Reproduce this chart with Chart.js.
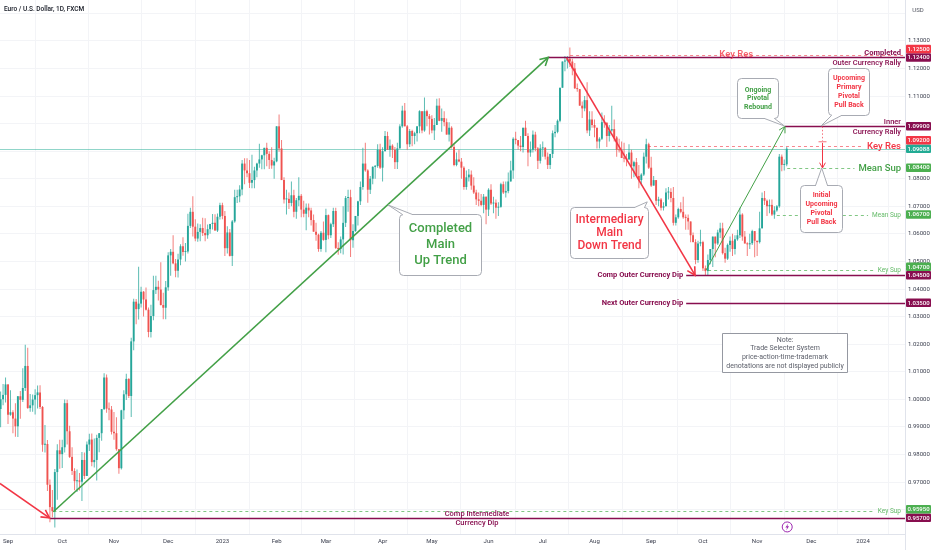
<!DOCTYPE html>
<html>
<head>
<meta charset="utf-8">
<title>EUR/USD daily</title>
<script src="https://cdn.jsdelivr.net/npm/chart.js@4.4.1/dist/chart.umd.min.js"></script>
<style>
  html, body { margin: 0; padding: 0; background: #fff; }
  #wrap { width: 932px; height: 550px; }
</style>
</head>
<body>
<div id="wrap"><canvas id="chart" width="932" height="550"></canvas></div>
<script>
// EUR/USD 1D candles, 29 Aug 2022 .. 17 Nov 2023 (one entry per weekday)
const firstOpen = 0.9965;
const closes = [
  1.0000, 1.0016, 1.0054,
  0.9944, 0.9953, 0.9930, 0.9902, 1.0011, 0.9998, 1.0041, 1.0121, 0.9968, 0.9978, 0.9999, 1.0015, 1.0025, 0.9972, 0.9835, 0.9838, 0.9690, 0.9609, 0.9594, 0.9736, 0.9815, 0.9801,
  0.9826, 0.9986, 0.9884, 0.9791, 0.9740, 0.9703, 0.9706, 0.9701, 0.9780, 0.9722, 0.9836, 0.9854, 0.9772, 0.9780, 0.9860, 0.9877, 0.9964, 1.0079, 0.9966, 0.9963, 0.9882,
  0.9877, 0.9819, 0.9750, 0.9960, 1.0018, 1.0074, 1.0012, 1.0210, 1.0354, 1.0327, 1.0347, 1.0390, 1.0362, 1.0325, 1.0244, 1.0302, 1.0396, 1.0408, 1.0398, 1.0342, 1.0332, 1.0406,
  1.0522, 1.0535, 1.0493, 1.0466, 1.0507, 1.0555, 1.0534, 1.0536, 1.0629, 1.0680, 1.0626, 1.0583, 1.0607, 1.0621, 1.0603, 1.0595, 1.0617, 1.0636, 1.0640, 1.0612, 1.0662, 1.0704,
  1.0665, 1.0548, 1.0605, 1.0520, 1.0645, 1.0733, 1.0736, 1.0761, 1.0855, 1.0830, 1.0820, 1.0785, 1.0795, 1.0830, 1.0855, 1.0870, 1.0885, 1.0912, 1.0890, 1.0868, 1.0848, 1.0863,
  1.0990, 1.0910, 1.0795, 1.0725, 1.0727, 1.0712, 1.0740, 1.0680, 1.0722, 1.0738, 1.0688, 1.0673, 1.0695, 1.0685, 1.0650, 1.0608, 1.0597, 1.0545, 1.0604, 1.0578,
  1.0668, 1.0595, 1.0635, 1.0683, 1.0549, 1.0545, 1.0580, 1.0640, 1.0730, 1.0733, 1.0577, 1.0610, 1.0665, 1.0718, 1.0770, 1.0855, 1.0830, 1.0760, 1.0800, 1.0843, 1.0846, 1.0905, 1.0840,
  1.0900, 1.0955, 1.0905, 1.0920, 1.0905, 1.0860, 1.0910, 1.0990, 1.1047, 1.0990, 1.0925, 1.0973, 1.0955, 1.0965, 1.0990, 1.1045, 1.0975, 1.1045, 1.1027, 1.1017,
  1.0975, 1.0995, 1.1065, 1.1010, 1.1020, 1.1005, 1.0960, 1.0985, 1.0915, 1.0850, 1.0870, 1.0862, 1.0840, 1.0770, 1.0805, 1.0815, 1.0775, 1.0750, 1.0725, 1.0720, 1.0705, 1.0735, 1.0688,
  1.0760, 1.0710, 1.0713, 1.0695, 1.0698, 1.0780, 1.0750, 1.0755, 1.0790, 1.0830, 1.0945, 1.0940, 1.0920, 1.0915, 1.0985, 1.0955, 1.0895, 1.0905, 1.0960, 1.0910, 1.0865, 1.0910,
  1.0912, 1.0880, 1.0850, 1.0890, 1.0965, 1.0970, 1.1010, 1.1130, 1.1225, 1.1228, 1.1235, 1.1225, 1.1200, 1.1128, 1.1125, 1.1065, 1.1055, 1.1085, 1.0975, 1.1015, 1.0995,
  1.0985, 1.0935, 1.0945, 1.1005, 1.1003, 1.0955, 1.0975, 1.0980, 1.0950, 1.0905, 1.0903, 1.0875, 1.0873, 1.0870, 1.0895, 1.0845, 1.0860, 1.0810, 1.0795, 1.0815, 1.0880, 1.0925, 1.0840,
  1.0775, 1.0795, 1.0720, 1.0725, 1.0695, 1.0700, 1.0750, 1.0752, 1.0730, 1.0640, 1.0660, 1.0690, 1.0680, 1.0660, 1.0658, 1.0645, 1.0595, 1.0570, 1.0505, 1.0565, 1.0570,
  1.0475, 1.0465, 1.0505, 1.0545, 1.0590, 1.0565, 1.0605, 1.0620, 1.0530, 1.0510, 1.0560, 1.0575, 1.0545, 1.0580, 1.0595, 1.0670, 1.0590, 1.0565, 1.0562, 1.0566, 1.0610, 1.0575,
  1.0570, 1.0620, 1.0730, 1.0720, 1.0700, 1.0705, 1.0670, 1.0685, 1.0700, 1.0880, 1.0850, 1.0852, 1.0909
];
const highs = [
  1.0028, 1.0055, 1.0079,
  1.0055, 1.0033, 0.9960, 0.9986, 1.0012, 1.0030, 1.0113, 1.0198, 1.0187, 1.0019, 1.0017, 1.0036, 1.0050, 1.0051, 0.9976, 0.9907, 0.9852, 0.9709, 0.9671, 0.9747, 0.9837, 0.9853,
  0.9853, 0.9999, 0.9998, 0.9904, 0.9826, 0.9750, 0.9745, 0.9733, 0.9809, 0.9807, 0.9847, 0.9875, 0.9876, 0.9858, 0.9871, 0.9877, 0.9965, 1.0094, 1.0090, 0.9988, 0.9976,
  0.9954, 0.9935, 0.9815, 0.9962, 1.0033, 1.0093, 1.0076, 1.0223, 1.0365, 1.0364, 1.0481, 1.0408, 1.0393, 1.0405, 1.0333, 1.0343, 1.0448, 1.0448, 1.0430, 1.0497, 1.0386, 1.0429,
  1.0533, 1.0545, 1.0595, 1.0509, 1.0528, 1.0562, 1.0588, 1.0567, 1.0673, 1.0695, 1.0736, 1.0653, 1.0638, 1.0635, 1.0658, 1.0657, 1.0634, 1.0636, 1.0672, 1.0671, 1.0674, 1.0713,
  1.0713, 1.0683, 1.0628, 1.0618, 1.0650, 1.0760, 1.0760, 1.0776, 1.0868, 1.0874, 1.0874, 1.0868, 1.0887, 1.0843, 1.0858, 1.0927, 1.0887, 1.0912, 1.0930, 1.0900, 1.0914, 1.0876,
  1.0990, 1.1033, 1.0940, 1.0805, 1.0760, 1.0750, 1.0790, 1.0760, 1.0730, 1.0805, 1.0745, 1.0720, 1.0710, 1.0710, 1.0695, 1.0670, 1.0640, 1.0600, 1.0610, 1.0645,
  1.0691, 1.0670, 1.0640, 1.0695, 1.0695, 1.0570, 1.0590, 1.0700, 1.0737, 1.0760, 1.0760, 1.0635, 1.0665, 1.0720, 1.0790, 1.0912, 1.0930, 1.0834, 1.0810, 1.0845, 1.0850, 1.0925, 1.0927,
  1.0914, 1.0973, 1.0970, 1.0942, 1.0925, 1.0915, 1.0930, 1.0998, 1.1065, 1.1075, 1.0995, 1.0980, 1.0978, 1.0970, 1.0990, 1.1048, 1.1045, 1.1095, 1.1050, 1.1035,
  1.1030, 1.1020, 1.1090, 1.1092, 1.1055, 1.1045, 1.1018, 1.1005, 1.0990, 1.0925, 1.0895, 1.0905, 1.0875, 1.0845, 1.0830, 1.0835, 1.0830, 1.0805, 1.0760, 1.0750, 1.0745, 1.0745, 1.0735,
  1.0765, 1.0780, 1.0735, 1.0725, 1.0715, 1.0785, 1.0790, 1.0790, 1.0823, 1.0865, 1.0950, 1.0970, 1.0940, 1.0955, 1.0985, 1.1010, 1.0965, 1.0935, 1.0975, 1.0970, 1.0915, 1.0925,
  1.0935, 1.0915, 1.0895, 1.0885, 1.0975, 1.0995, 1.1015, 1.1130, 1.1225, 1.1245, 1.1245, 1.1276, 1.1235, 1.1220, 1.1145, 1.1125, 1.1080, 1.1100, 1.1150, 1.1045, 1.1045,
  1.1015, 1.0985, 1.0950, 1.1040, 1.1030, 1.1005, 1.0995, 1.1065, 1.1015, 1.0955, 1.0945, 1.0935, 1.0930, 1.0890, 1.0925, 1.0905, 1.0865, 1.0875, 1.0850, 1.0820, 1.0895, 1.0945, 1.0930,
  1.0880, 1.0810, 1.0795, 1.0735, 1.0730, 1.0715, 1.0765, 1.0770, 1.0765, 1.0770, 1.0670, 1.0695, 1.0715, 1.0735, 1.0670, 1.0670, 1.0645, 1.0605, 1.0580, 1.0575, 1.0615,
  1.0575, 1.0485, 1.0525, 1.0545, 1.0590, 1.0580, 1.0615, 1.0640, 1.0640, 1.0550, 1.0565, 1.0590, 1.0600, 1.0595, 1.0615, 1.0695, 1.0675, 1.0610, 1.0570, 1.0600, 1.0615, 1.0610,
  1.0575, 1.0680, 1.0750, 1.0755, 1.0725, 1.0725, 1.0725, 1.0700, 1.0705, 1.0890, 1.0888, 1.0870, 1.0915
];
const lows = [
  0.9899, 0.9978, 0.9988,
  0.9910, 0.9940, 0.9877, 0.9864, 0.9863, 0.9929, 0.9990, 1.0030, 0.9966, 0.9955, 0.9955, 0.9945, 0.9967, 0.9965, 0.9810, 0.9807, 0.9667, 0.9554, 0.9572, 0.9535, 0.9636, 0.9748,
  0.9751, 0.9807, 0.9836, 0.9787, 0.9725, 0.9670, 0.9664, 0.9669, 0.9631, 0.9711, 0.9736, 0.9812, 0.9757, 0.9753, 0.9705, 0.9808, 0.9850, 0.9962, 0.9951, 0.9924, 0.9872,
  0.9853, 0.9813, 0.9730, 0.9745, 0.9928, 0.9997, 1.0005, 0.9936, 1.0178, 1.0272, 1.0289, 1.0333, 1.0300, 1.0322, 1.0225, 1.0224, 1.0287, 1.0382, 1.0358, 1.0340, 1.0290, 1.0290,
  1.0394, 1.0448, 1.0490, 1.0443, 1.0442, 1.0486, 1.0521, 1.0500, 1.0529, 1.0621, 1.0590, 1.0573, 1.0571, 1.0573, 1.0592, 1.0573, 1.0582, 1.0600, 1.0616, 1.0611, 1.0607, 1.0652,
  1.0653, 1.0520, 1.0529, 1.0518, 1.0483, 1.0640, 1.0712, 1.0715, 1.0740, 1.0780, 1.0805, 1.0766, 1.0765, 1.0765, 1.0805, 1.0840, 1.0834, 1.0834, 1.0845, 1.0835, 1.0836, 1.0800,
  1.0860, 1.0898, 1.0795, 1.0710, 1.0670, 1.0690, 1.0700, 1.0660, 1.0655, 1.0700, 1.0660, 1.0660, 1.0613, 1.0660, 1.0630, 1.0610, 1.0575, 1.0535, 1.0535, 1.0575,
  1.0533, 1.0580, 1.0585, 1.0625, 1.0545, 1.0524, 1.0530, 1.0525, 1.0625, 1.0680, 1.0516, 1.0550, 1.0608, 1.0630, 1.0705, 1.0760, 1.0825, 1.0713, 1.0745, 1.0780, 1.0800, 1.0840, 1.0835,
  1.0790, 1.0900, 1.0905, 1.0880, 1.0875, 1.0835, 1.0835, 1.0910, 1.0985, 1.0990, 1.0905, 1.0915, 1.0918, 1.0925, 1.0935, 1.0965, 1.0965, 1.0970, 1.0990, 1.0960,
  1.0965, 1.0940, 1.0995, 1.1008, 1.0970, 1.0990, 1.0960, 1.0935, 1.0910, 1.0845, 1.0845, 1.0860, 1.0800, 1.0760, 1.0760, 1.0790, 1.0760, 1.0745, 1.0705, 1.0700, 1.0700, 1.0675, 1.0635,
  1.0665, 1.0705, 1.0675, 1.0655, 1.0665, 1.0695, 1.0745, 1.0732, 1.0747, 1.0790, 1.0800, 1.0925, 1.0905, 1.0900, 1.0895, 1.0955, 1.0845, 1.0880, 1.0895, 1.0900, 1.0835, 1.0855,
  1.0880, 1.0870, 1.0835, 1.0835, 1.0875, 1.0950, 1.0965, 1.1005, 1.1130, 1.1190, 1.1200, 1.1205, 1.1175, 1.1125, 1.1115, 1.1065, 1.1020, 1.1045, 1.0965, 1.0955, 1.0985,
  1.0950, 1.0910, 1.0910, 1.0940, 1.0985, 1.0915, 1.0935, 1.0970, 1.0935, 1.0880, 1.0895, 1.0875, 1.0860, 1.0845, 1.0875, 1.0800, 1.0805, 1.0805, 1.0765, 1.0775, 1.0810, 1.0855, 1.0835,
  1.0770, 1.0780, 1.0705, 1.0700, 1.0685, 1.0685, 1.0700, 1.0725, 1.0715, 1.0630, 1.0630, 1.0655, 1.0675, 1.0655, 1.0615, 1.0615, 1.0570, 1.0570, 1.0490, 1.0495, 1.0555,
  1.0465, 1.0448, 1.0450, 1.0490, 1.0480, 1.0515, 1.0560, 1.0585, 1.0525, 1.0495, 1.0505, 1.0535, 1.0520, 1.0525, 1.0575, 1.0585, 1.0575, 1.0565, 1.0520, 1.0545, 1.0560, 1.0515,
  1.0520, 1.0565, 1.0620, 1.0705, 1.0665, 1.0675, 1.0665, 1.0655, 1.0680, 1.0695, 1.0827, 1.0830, 1.0845
];

// time axis: index of the first weekday of each month and its label
const monthStarts = [3, 25, 46, 68, 90, 112, 132, 155, 175, 198, 220, 241, 264, 285, 307, 329, 350];
const monthLabels = ['Sep', 'Oct', 'Nov', 'Dec', '2023', 'Feb', 'Mar', 'Apr', 'May', 'Jun', 'Jul', 'Aug', 'Sep', 'Oct', 'Nov', 'Dec', '2024'];

// price axis: grid every 0.01, labels where the tags leave room
const gridPrices = [0.96, 0.97, 0.98, 0.99, 1.00, 1.01, 1.02, 1.03, 1.04, 1.05, 1.06, 1.07, 1.08, 1.09, 1.10, 1.11, 1.12, 1.13, 1.14];
const priceLabels = [0.97, 0.98, 0.99, 1.00, 1.01, 1.02, 1.03, 1.04, 1.05, 1.06, 1.07, 1.08, 1.11, 1.12, 1.13];
const lastPrice = 1.09088;

// price tags shown on the right axis
const tagPrices = [1.1250, 1.1240, 1.0990, 1.0920, 1.09088, 1.0840, 1.0670, 1.0470, 1.0450, 1.0350, 0.9595, 0.9570];

// ---------- styles / annotation layout ----------
const UP = '#26a69a', DOWN = '#ef5350';
const UP_WICK = 'rgba(38,166,154,0.75)', DOWN_WICK = 'rgba(239,83,80,0.75)';
const MAROON = '#880e4f', RED = '#f23645', GREEN = '#43a047', LGREEN = '#66bb6a', TEAL = '#22ab94';
const FONT = 'Roboto, "Noto Sans", sans-serif';
const tagColors = [RED, MAROON, MAROON, RED, TEAL, '#4caf50', '#4caf50', '#4caf50', MAROON, MAROON, '#4caf50', MAROON];

const resDash = 'rgba(242,54,69,0.6)', supDash = 'rgba(76,175,80,0.7)';
const levels = [
  { p: 1.1250, from: 231.1, color: resDash, dash: [3, 3], width: 1 },
  { p: 1.1240, from: 222.2, color: MAROON, width: 1.3, above: 'Completed', below: 'Outer Currency Rally', aFont: 'bold 7.5px ' + FONT, bFont: '500 7.5px ' + FONT },
  { p: 1.0990, from: 318.3, color: MAROON, width: 1.3, above: 'Inner', below: 'Currency Rally', aFont: '500 7.5px ' + FONT, bFont: '500 7.5px ' + FONT },
  { p: 1.0920, from: 262.7, color: resDash, dash: [3, 3], width: 1, inline: 'Key Res', font: '500 9.5px ' + FONT, tColor: RED },
  { p: 1.0840, from: 319.2, color: supDash, dash: [3, 3], width: 1, inline: 'Mean Sup', font: '500 9.5px ' + FONT, tColor: GREEN },
  { p: 1.0670, from: 315.0, color: supDash, dash: [3, 3], width: 1, inline: 'Mean Sup', font: '6.5px ' + FONT, tColor: LGREEN },
  { p: 1.0470, from: 287.1, color: supDash, dash: [3, 3], width: 1, inline: 'Key Sup', font: '6.5px ' + FONT, tColor: LGREEN },
  { p: 1.0450, from: 278.2, color: MAROON, width: 1.3, left: 'Comp Outer Currency Dip' },
  { p: 1.0350, from: 278.2, color: MAROON, width: 1.3, left: 'Next Outer Currency Dip' },
  { p: 0.9595, from: 21.4, color: supDash, dash: [3, 3], width: 1, inline: 'Key Sup', font: '6.5px ' + FONT, tColor: LGREEN },
  { p: 0.9570, from: 20.0, color: MAROON, width: 1.3, mid: ['Comp Intermediate', 'Currency Dip'], midAt: 193.3 }
];

const trends = [
  { a: [21.4, 0.9592], b: [222.2, 1.1240], color: GREEN, width: 1.6, head: 9 },
  { a: [-0.3, 0.9695], b: [19.8, 0.9570], color: RED, width: 1.6, head: 9 },
  { a: [229.7, 1.1238], b: [281.8, 1.0450], color: RED, width: 1.6, head: 9 },
  { a: [286.3, 1.0469], b: [318.3, 1.0990], color: GREEN, width: 1, head: 7 }
];

const callouts = [
  { lines: ['Completed', 'Main', 'Up Trend'], i: 178.3, p: 1.0561, w: 82, h: 61, font: '500 13px ' + FONT, lh: 16, color: GREEN, tail: { to: [157.2, 1.0705], edge: 'top', at: [3, 13] } },
  { lines: ['Intermediary', 'Main', 'Down Trend'], i: 246.9, p: 1.0605, w: 78, h: 51, font: '500 12px ' + FONT, lh: 13, color: RED, tail: { to: [262.4, 1.0716], edge: 'top', at: [64, 74] } },
  { lines: ['Ongoing', 'Pivotal', 'Rebound'], i: 307.2, p: 1.1093, w: 41, h: 40, font: 'bold 7px ' + FONT, lh: 8.7, color: GREEN, tail: { to: [318.1, 1.0991], edge: 'bottom', at: [27, 37] } },
  { lines: ['Upcoming', 'Primary', 'Pivotal', 'Pull Back'], i: 344.1, p: 1.1116, w: 41, h: 47, font: 'bold 7px ' + FONT, lh: 9, color: RED, tail: { to: [332.9, 1.0991], edge: 'bottom', at: [3, 13] } },
  { lines: ['Initial', 'Upcoming', 'Pivotal', 'Pull Back'], i: 332.8, p: 1.0692, w: 42, h: 47, font: 'bold 7px ' + FONT, lh: 9, color: RED, tail: { to: [333.2, 1.0839], edge: 'top', at: [15, 27] } },
  { lines: ['Note:', 'Trade Selecter System', 'price-action-time-trademark', 'denotations are not displayed publicly'], i: 318.1, p: 1.0170, w: 125, h: 39, font: '7px ' + FONT, lh: 8.7, color: '#5d606b', radius: 0, border: '#9598a1' }
];

// ---------- candles ----------
const opens = closes.map((c, i) => (i === 0 ? firstOpen : closes[i - 1]));
const bodies = closes.map((c, i) => ({ x: i, y: [opens[i], c] }));
const wicks = closes.map((c, i) => ({ x: i, y: [Math.min(lows[i], opens[i], c), Math.max(highs[i], opens[i], c)] }));
const bodyColors = closes.map((c, i) => (c >= opens[i] ? UP : DOWN));
const wickColors = closes.map((c, i) => (c >= opens[i] ? UP_WICK : DOWN_WICK));

// ---------- drawing helpers ----------
function seg(ctx, x1, y1, x2, y2) {
  ctx.beginPath(); ctx.moveTo(x1, y1); ctx.lineTo(x2, y2); ctx.stroke();
}
function arrow(ctx, x1, y1, x2, y2, size) {
  seg(ctx, x1, y1, x2, y2);
  const a = Math.atan2(y2 - y1, x2 - x1);
  ctx.beginPath();
  ctx.moveTo(x2 - size * Math.cos(a - 0.5), y2 - size * Math.sin(a - 0.5));
  ctx.lineTo(x2, y2);
  ctx.lineTo(x2 - size * Math.cos(a + 0.5), y2 - size * Math.sin(a + 0.5));
  ctx.stroke();
}
function label(ctx, s, x, y, font, color, align) {
  ctx.font = font; ctx.fillStyle = color;
  ctx.textAlign = align || 'center'; ctx.textBaseline = 'middle';
  ctx.fillText(s, x, y);
}
function rrect(ctx, x, y, w, h, r) {
  ctx.beginPath();
  ctx.moveTo(x + r, y);
  ctx.lineTo(x + w - r, y); ctx.arcTo(x + w, y, x + w, y + r, r);
  ctx.lineTo(x + w, y + h - r); ctx.arcTo(x + w, y + h, x + w - r, y + h, r);
  ctx.lineTo(x + r, y + h); ctx.arcTo(x, y + h, x, y + h - r, r);
  ctx.lineTo(x, y + r); ctx.arcTo(x, y, x + r, y, r);
  ctx.closePath();
}

function drawCallout(ctx, c, X, Y) {
  const left = Math.round(X(c.i) - c.w / 2) + 0.5, top = Math.round(Y(c.p) - c.h / 2) + 0.5;
  ctx.save();
  ctx.lineWidth = 1;
  ctx.strokeStyle = c.border || '#a8abb3';
  ctx.fillStyle = '#fff';
  let t = null;
  if (c.tail) {
    const ey = c.tail.edge === 'top' ? top : top + c.h;
    t = [[left + c.tail.at[0], ey], [X(c.tail.to[0]), Y(c.tail.to[1])], [left + c.tail.at[1], ey]];
    ctx.beginPath(); ctx.moveTo(t[0][0], t[0][1]); ctx.lineTo(t[1][0], t[1][1]); ctx.lineTo(t[2][0], t[2][1]);
    ctx.closePath(); ctx.fill();
  }
  rrect(ctx, left, top, c.w, c.h, c.radius === undefined ? 4 : c.radius);
  ctx.fill(); ctx.stroke();
  if (t) {
    ctx.fillRect(t[0][0] + 0.5, t[0][1] - 1.5, t[2][0] - t[0][0] - 1, 3);
    ctx.beginPath(); ctx.moveTo(t[0][0], t[0][1]); ctx.lineTo(t[1][0], t[1][1]); ctx.lineTo(t[2][0], t[2][1]);
    ctx.stroke();
  }
  const cx = left + c.w / 2, cy = top + c.h / 2;
  c.lines.forEach((s, k) => label(ctx, s, cx, cy + (k - (c.lines.length - 1) / 2) * c.lh, c.font, c.color));
  ctx.restore();
}

const overlay = {
  id: 'overlay',
  beforeDatasetsDraw(chart) {
    const { ctx, chartArea: a, scales: { y } } = chart;
    ctx.save();
    ctx.strokeStyle = 'rgba(34,171,148,0.5)';
    ctx.lineWidth = 1;
    const py = Math.round(y.getPixelForValue(lastPrice)) + 0.5;
    seg(ctx, a.left, py, a.right, py);
    ctx.restore();
  },
  afterDatasetsDraw(chart) {
    const { ctx, chartArea: a, scales: { x, y } } = chart;
    const X = v => x.getPixelForValue(v), Y = v => y.getPixelForValue(v);
    ctx.save();
    ctx.beginPath(); ctx.rect(a.left, a.top, a.right - a.left, a.bottom - a.top); ctx.clip();
    const rightText = a.right - 4;

    // horizontal levels
    levels.forEach(l => {
      const py = Math.round(Y(l.p)) + 0.5;
      let end = a.right;
      if (l.inline) {
        ctx.font = l.font;
        end = rightText - ctx.measureText(l.inline).width - 4;
      }
      ctx.strokeStyle = l.color; ctx.lineWidth = l.width;
      ctx.setLineDash(l.dash || []);
      seg(ctx, X(l.from), py, end, py);
      ctx.setLineDash([]);
      if (l.inline) label(ctx, l.inline, rightText, py, l.font, l.tColor, 'right');
      if (l.above) label(ctx, l.above, rightText, py - 4.5, l.aFont, MAROON, 'right');
      if (l.below) label(ctx, l.below, rightText, py + 5.5, l.bFont, MAROON, 'right');
      if (l.left) label(ctx, l.left, X(l.from) - 3, py, 'bold 7.5px ' + FONT, MAROON, 'right');
      if (l.mid) {
        label(ctx, l.mid[0], X(l.midAt), py - 4.5, '500 7.5px ' + FONT, MAROON);
        label(ctx, l.mid[1], X(l.midAt), py + 5, '500 7.5px ' + FONT, MAROON);
      }
    });
    label(ctx, 'Key Res', X(298.5), Y(1.1249), '500 9.5px ' + FONT, 'rgba(242,54,69,0.8)');

    // trend arrows
    trends.forEach(t => {
      ctx.strokeStyle = t.color; ctx.lineWidth = t.width;
      arrow(ctx, X(t.a[0]), Y(t.a[1]), X(t.b[0]), Y(t.b[1]), t.head);
    });

    // pull back projection
    const px = Math.round(X(333.3)) + 0.5;
    ctx.strokeStyle = 'rgba(242,54,69,0.7)'; ctx.lineWidth = 1;
    ctx.setLineDash([1.5, 2]);
    seg(ctx, px, Y(1.0990), px, Y(1.0937));
    ctx.setLineDash([]);
    seg(ctx, px - 4, Y(1.0934), px + 4, Y(1.0934));
    ctx.strokeStyle = RED;
    arrow(ctx, px, Y(1.0930), px, Y(1.0839), 6);

    callouts.forEach(c => drawCallout(ctx, c, X, Y));

    // event marker
    const ex = X(319.2), ey = Y(0.9537);
    ctx.strokeStyle = '#9c27b0'; ctx.lineWidth = 1;
    ctx.beginPath(); ctx.arc(ex, ey, 5, 0, Math.PI * 2); ctx.fillStyle = '#fff'; ctx.fill(); ctx.stroke();
    ctx.fillStyle = '#9c27b0';
    ctx.beginPath();
    ctx.moveTo(ex + 1, ey - 3.5); ctx.lineTo(ex - 1.8, ey + 0.6); ctx.lineTo(ex - 0.1, ey + 0.6);
    ctx.lineTo(ex - 1, ey + 3.5); ctx.lineTo(ex + 1.8, ey - 0.6); ctx.lineTo(ex + 0.1, ey - 0.6);
    ctx.closePath(); ctx.fill();
    ctx.restore();
  },
  afterDraw(chart) {
    const { ctx, chartArea: a, scales: { y } } = chart;
    ctx.save();
    // header
    label(ctx, 'Euro / U.S. Dollar, 1D, FXCM', 4, 9.5, '500 6.5px ' + FONT, '#131722', 'left');
    label(ctx, 'USD', 918, 10, '6px ' + FONT, '#50535e');
    ctx.strokeStyle = '#e0e3eb'; ctx.lineWidth = 1;
    seg(ctx, a.right + 0.5, a.bottom, a.right + 0.5, chart.height);

    // price tags, pushed apart from the bottom up
    const h = 8.5;
    const tags = tagPrices.map((p, k) => ({ p, color: tagColors[k], y: y.getPixelForValue(p) }))
      .sort((m, n) => n.y - m.y);
    for (let k = 1; k < tags.length; k++) {
      if (tags[k - 1].y - tags[k].y < h) tags[k].y = tags[k - 1].y - h;
    }
    tags.forEach(t => {
      ctx.fillStyle = t.color;
      rrect(ctx, a.right + 1, t.y - h / 2, 25, h, 1); ctx.fill();
      label(ctx, t.p.toFixed(5), a.right + 13.5, t.y + 0.3, '500 6px ' + FONT, '#fff');
    });
    ctx.restore();
  }
};

new Chart(document.getElementById('chart'), {
  type: 'bar',
  data: {
    datasets: [
      { label: 'wicks', data: wicks, backgroundColor: wickColors, barThickness: 1, grouped: false, order: 2, inflateAmount: 0 },
      { label: 'bodies', data: bodies, backgroundColor: bodyColors, barThickness: 1.9, grouped: false, order: 1, inflateAmount: 0, minBarLength: 1 }
    ]
  },
  options: {
    responsive: false,
    animation: false,
    events: [],
    layout: { padding: 0, autoPadding: false },
    plugins: { legend: { display: false }, tooltip: { enabled: false } },
    scales: {
      x: {
        type: 'linear', min: -0.25, max: 367, offset: false,
        grid: { color: '#f3f4f7', drawTicks: false },
        border: { color: '#e0e3eb' },
        afterBuildTicks: s => { s.ticks = monthStarts.map(v => ({ value: v })); },
        ticks: {
          autoSkip: false, maxRotation: 0, padding: 4,
          font: { family: 'Roboto', size: 6 }, color: '#3d4150',
          callback: v => { const k = monthStarts.indexOf(v); return k < 0 ? '' : monthLabels[k]; }
        },
        afterFit: s => { s.height = 16; s.paddingLeft = 0; s.paddingRight = 0; }
      },
      y: {
        type: 'linear', position: 'right', min: 0.95114, max: 1.14482,
        grid: { color: '#f3f4f7', drawTicks: false },
        border: { color: '#e0e3eb' },
        afterBuildTicks: s => { s.ticks = gridPrices.map(v => ({ value: v })); },
        ticks: {
          autoSkip: false, padding: 3,
          font: { family: 'Roboto', size: 6 }, color: '#3d4150',
          callback: v => (priceLabels.some(p => Math.abs(p - v) < 1e-6) ? v.toFixed(5) : '')
        },
        afterFit: s => { s.width = 27; s.paddingTop = 0; s.paddingBottom = 0; }
      }
    }
  },
  plugins: [overlay]
});
</script>
</body>
</html>
